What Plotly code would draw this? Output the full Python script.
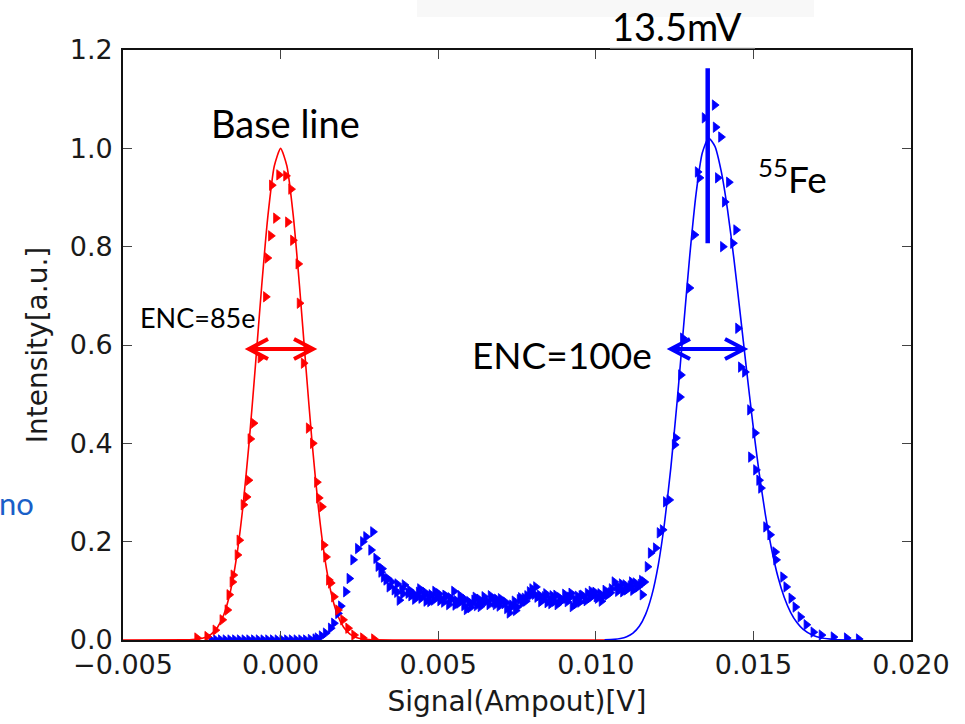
import plotly.graph_objects as go

# ---------------- data (x in mV, converted to V for plotting) ----------------
# Base line (red) measured points
red_x_mV = [-2.65, -2.33, -2.07, -1.85, -1.69, -1.63, -1.53, -1.50, -1.37, -1.31,
            -1.18, -1.08, -1.02, -0.96, -0.86, -0.64, -0.47, -0.42, -0.31, -0.28,
            -0.15, -0.05, 0.17, 0.23, 0.33, 0.39, 0.56, 0.60, 0.73, 0.89,
            1.02, 1.15, 1.21, 1.31, 1.37, 1.44, 1.53, 1.59, 1.69, 1.82,
            1.98, 2.14, 2.33, 2.61, 2.96]
red_y = [0.004, 0.007, 0.020, 0.041, 0.061, 0.092, 0.118, 0.132, 0.173, 0.203,
         0.275, 0.291, 0.325, 0.409, 0.441, 0.574, 0.698, 0.777, 0.822, 0.925,
         0.858, 0.946, 0.944, 0.850, 0.917, 0.813, 0.765, 0.685, 0.563, 0.431,
         0.400, 0.321, 0.289, 0.271, 0.193, 0.169, 0.122, 0.116, 0.088, 0.061,
         0.041, 0.024, 0.010, 0.004, 0.002]

# Base line fit curve
red_fit_x_mV = [-5.0, -3.0, -2.8, -2.6, -2.4, -2.2, -2.0, -1.8, -1.6, -1.4, -1.2, -1.0,
                -0.8, -0.6, -0.4, -0.2, 0.0, 0.2, 0.4, 0.6, 0.8, 1.0, 1.2, 1.4, 1.6,
                1.8, 2.0, 2.2, 2.4, 2.6, 2.8, 3.0, 4.0, 10.3]
red_fit_y = [0.0, 0.0003, 0.0008, 0.0021, 0.0052, 0.0120, 0.0259, 0.0519, 0.0966, 0.167,
             0.2685, 0.401, 0.557, 0.720, 0.864, 0.964, 1.0, 0.964, 0.864, 0.720, 0.557,
             0.401, 0.2685, 0.167, 0.0966, 0.0519, 0.0259, 0.0120, 0.0052, 0.0021,
             0.0008, 0.0003, 0.0, 0.0]

# 55Fe spectrum (blue) measured points
blue_x_mV = [-2.20, -2.05, -1.90, -1.75, -1.60, -1.45, -1.30, -1.15, -1.00, -0.85, -0.70,
             -0.55, -0.40, -0.25, -0.10, 0.05, 0.20, 0.35, 0.50, 0.65, 0.80, 0.95,
             1.10, 1.17, 1.30, 1.43, 1.59, 1.69, 1.82, 1.91, 2.07, 2.18, 2.30, 2.45,
             2.61, 2.71, 2.87, 2.93, 3.03, 3.10, 3.19, 3.27, 3.35, 3.45, 3.52, 3.61,
             3.69, 3.77, 3.85, 3.93, 4.05,
             4.14, 4.22, 4.30, 4.38, 4.46, 4.54, 4.62, 4.70, 4.78, 4.86, 4.94, 5.02,
             5.10, 5.18, 5.26, 5.34, 5.42, 5.50, 5.58, 5.66, 5.74, 5.82, 5.90, 5.98,
             6.06, 6.14, 6.22, 6.30, 6.38, 6.46, 6.54, 6.62, 6.70, 6.78, 6.86, 6.94,
             7.02, 7.10, 7.18, 7.26, 7.34, 7.42, 7.50, 7.58, 7.66, 7.74, 7.82, 7.90,
             7.98, 8.06, 8.14, 8.22, 8.30, 8.38, 8.46, 8.54, 8.62, 8.70, 8.78, 8.86,
             8.94, 9.02, 9.10, 9.18, 9.26, 9.34, 9.42, 9.50, 9.58, 9.66, 9.74, 9.82,
             9.90, 9.98, 10.06, 10.14, 10.22, 10.30, 10.38, 10.46, 10.59, 10.70, 10.78,
             10.86, 10.94, 11.02, 11.10, 11.18, 11.26, 11.34, 11.42, 11.48, 11.54,
             11.64, 11.74, 11.90, 12.02, 12.12, 12.22, 12.33, 12.50, 12.54, 12.67,
             12.70, 12.76, 12.97, 13.13, 13.23, 13.29, 13.45, 13.77, 13.80, 13.87,
             13.97, 14.03, 14.09, 14.22, 14.35, 14.45, 14.51, 14.60, 14.73, 14.89,
             14.92, 15.05, 15.08, 15.18, 15.24, 15.40, 15.53, 15.69, 15.72, 15.94,
             16.04, 16.20, 16.33, 16.49, 16.68, 16.90, 17.16, 17.54, 17.96, 18.34,
             # second (scattered) group of plateau readings
             3.22, 3.40, 3.70, 3.88, 4.10, 4.26, 4.42, 4.58, 4.74, 4.90, 5.06, 5.22,
             5.38, 5.54, 5.70, 5.86, 6.02, 6.18, 6.34, 6.50, 6.66, 6.82, 6.98, 7.14,
             7.30, 7.46, 7.62, 7.78, 7.94, 8.10, 8.26, 8.42, 8.58, 8.74, 8.90, 9.06,
             9.22, 9.38, 9.54, 9.70, 9.86, 10.02, 10.18, 10.34, 10.50, 10.66, 10.82,
             10.98, 11.14, 11.30, 11.46]
blue_y = [0.0, 0.0, 0.0, 0.0, 0.0, 0.0, 0.0, 0.0, 0.0, 0.0, 0.0,
          0.0, 0.0, 0.0, 0.0, 0.0, 0.0, 0.0, 0.0, 0.0, 0.0, 0.001,
          0.002, 0.004, 0.008, 0.014, 0.024, 0.034, 0.054, 0.069, 0.098, 0.125, 0.163, 0.186,
          0.200, 0.210, 0.183, 0.220, 0.166, 0.150, 0.138, 0.128, 0.122, 0.108, 0.118, 0.102,
          0.097, 0.081, 0.104, 0.112, 0.095,
          0.090, 0.094, 0.088, 0.097, 0.085, 0.091, 0.079, 0.088, 0.092, 0.081, 0.087, 0.094,
          0.084, 0.077, 0.089, 0.072, 0.083, 0.099, 0.080, 0.075, 0.084, 0.070, 0.062, 0.078,
          0.073, 0.081, 0.070, 0.083, 0.076, 0.088, 0.079, 0.072, 0.085, 0.077, 0.083, 0.069,
          0.080, 0.074, 0.064, 0.055, 0.071, 0.079, 0.067, 0.082, 0.075, 0.085, 0.090, 0.098,
          0.104, 0.093, 0.087, 0.091, 0.081, 0.088, 0.076, 0.083, 0.090, 0.079, 0.072, 0.086,
          0.081, 0.093, 0.078, 0.087, 0.068, 0.082, 0.089, 0.077, 0.091, 0.084, 0.095, 0.086,
          0.090, 0.097, 0.085, 0.094, 0.088, 0.101, 0.092, 0.096, 0.118, 0.099, 0.105,
          0.098, 0.112, 0.104, 0.110, 0.101, 0.116, 0.108, 0.113, 0.092, 0.118,
          0.149, 0.177, 0.187, 0.218, 0.224, 0.281, 0.285, 0.397, 0.411, 0.494,
          0.539, 0.614, 0.716, 0.824, 0.952, 0.940, 1.062, 1.088, 1.043, 0.940,
          1.023, 0.800, 0.891, 0.931, 0.807, 0.834, 0.634, 0.555, 0.545, 0.468,
          0.372, 0.421, 0.346, 0.325, 0.309, 0.230, 0.214, 0.179, 0.163, 0.128,
          0.108, 0.085, 0.067, 0.047, 0.031, 0.016, 0.010, 0.006, 0.004, 0.002,
          0.145, 0.125, 0.114, 0.094, 0.101, 0.083, 0.104, 0.097, 0.078, 0.099, 0.080, 0.091,
          0.086, 0.071, 0.090, 0.082, 0.066, 0.087, 0.068, 0.080, 0.090, 0.072, 0.084, 0.077,
          0.066, 0.060, 0.086, 0.079, 0.091, 0.108, 0.078, 0.094, 0.074, 0.091, 0.079, 0.085,
          0.095, 0.074, 0.090, 0.080, 0.099, 0.088, 0.079, 0.094, 0.104, 0.110, 0.114,
          0.102, 0.118, 0.107, 0.121]

# 55Fe fit curve
blue_fit_x_mV = [10.28, 10.58, 10.78, 10.98, 11.18, 11.38, 11.58, 11.78, 11.98, 12.18,
                 12.38, 12.58, 12.78, 12.98, 13.18, 13.38, 13.58, 13.78, 13.98, 14.18,
                 14.38, 14.58, 14.78, 14.98, 15.18, 15.38, 15.58, 15.78, 15.98, 16.18,
                 16.38, 16.58, 16.88, 17.18, 17.58, 18.38]
blue_fit_y = [0.0003, 0.0013, 0.0030, 0.0067, 0.0141, 0.0279, 0.0522, 0.0918, 0.152, 0.238,
              0.350, 0.485, 0.634, 0.781, 0.907, 0.991, 1.021, 1.004, 0.953, 0.875,
              0.776, 0.665, 0.551, 0.441, 0.341, 0.255, 0.184, 0.128, 0.0865, 0.0563,
              0.0354, 0.0216, 0.0096, 0.0039, 0.0011, 0.0]

peak_mV = 13.55          # marked peak position
x_ticks = [-0.005, 0.000, 0.005, 0.010, 0.015, 0.020]
y_ticks = [0.0, 0.2, 0.4, 0.6, 0.8, 1.0, 1.2]

# ---------------- figure ----------------
to_V = lambda arr: [v * 1e-3 for v in arr]

W, H = 965, 724
L, R, T, B = 123, 54, 50, 84
PW, PH = W - L - R, H - T - B


def px(xp):
    return (xp - L) / PW


def py(yp):
    return (H - B - yp) / PH


RED = "#ff0000"
BLUE = "#0000ff"

fig = go.Figure()
fig.add_trace(go.Scatter(x=to_V(red_fit_x_mV), y=red_fit_y, mode="lines",
                         line=dict(color=RED, width=1.6, shape="spline", smoothing=0.6),
                         hoverinfo="skip", showlegend=False))
fig.add_trace(go.Scatter(x=to_V(blue_fit_x_mV), y=blue_fit_y, mode="lines",
                         line=dict(color=BLUE, width=1.6, shape="spline", smoothing=0.6),
                         hoverinfo="skip", showlegend=False))
fig.add_trace(go.Scatter(x=to_V(blue_x_mV), y=blue_y, mode="markers",
                         marker=dict(symbol="triangle-right", size=9, color=BLUE,
                                     line=dict(width=0.8, color=BLUE)),
                         showlegend=False))
fig.add_trace(go.Scatter(x=to_V(red_x_mV), y=red_y, mode="markers",
                         marker=dict(symbol="triangle-right", size=9, color=RED,
                                     line=dict(width=0.8, color=RED)),
                         showlegend=False))

# peak marker line
fig.add_shape(type="line", xref="x", yref="y", x0=peak_mV * 1e-3, x1=peak_mV * 1e-3,
              y0=0.807, y1=1.163, line=dict(color=BLUE, width=4.5), layer="above")


# double-headed arrows (drawn in pixel space)
def double_arrow(x0p, x1p, yp, color):
    hx, hy = 19, 10
    fig.add_shape(type="line", xref="paper", yref="paper", x0=px(x0p), x1=px(x1p),
                  y0=py(yp), y1=py(yp), line=dict(color=color, width=4), layer="above")
    for tip, sgn in ((x0p, 1), (x1p, -1)):
        path = (f"M {px(tip + sgn * hx)},{py(yp - hy)} L {px(tip)},{py(yp)} "
                f"L {px(tip + sgn * hx)},{py(yp + hy)}")
        fig.add_shape(type="path", xref="paper", yref="paper", path=path,
                      line=dict(color=color, width=4), layer="above")


double_arrow(249, 313, 349, RED)
double_arrow(671, 744, 349, BLUE)

# faint banner and underline at top
fig.add_shape(type="rect", xref="paper", yref="paper", x0=px(417), x1=px(814),
              y0=py(17), y1=py(0), fillcolor="#f8f8f8", line=dict(width=0), layer="below")
fig.add_shape(type="line", xref="paper", yref="paper", x0=px(610), x1=px(755),
              y0=py(48), y1=py(48), line=dict(color="#cfcfcf", width=1))

TXT = "Lato"
ann = [
    dict(text="Base line", x=px(285), y=py(123), size=38, color="black"),
    dict(text="13.5mV", x=px(677), y=py(26), size=38, color="black"),
    dict(text="<sup>55</sup>Fe", x=px(792), y=py(176), size=37, color="black"),
    dict(text="ENC=85e", x=px(197), y=py(317), size=27, color="black"),
    dict(text="ENC=100e", x=px(562), y=py(354), size=37, color="black"),
]
for a in ann:
    fig.add_annotation(text=a["text"], x=a["x"], y=a["y"], xref="paper", yref="paper",
                       showarrow=False, xanchor="center", yanchor="middle",
                       font=dict(family=TXT, size=a["size"], color=a["color"]))
fig.add_annotation(text="no", x=px(-3), y=py(503), xref="paper", yref="paper",
                   showarrow=False, xanchor="left", yanchor="middle",
                   font=dict(family=TXT, size=31, color="#1a5fc8"))

axis_common = dict(showline=True, linecolor="#111111", linewidth=1.6, mirror="ticks",
                   ticks="inside", ticklen=9, tickwidth=1, tickcolor="#444444",
                   showgrid=False, zeroline=False, automargin=False,
                   tickfont=dict(family="DejaVu Sans", size=27, color="#1a1a1a"))

fig.update_layout(
    width=W, height=H, autosize=False,
    margin=dict(l=L, r=R, t=T, b=B, pad=0),
    paper_bgcolor="white", plot_bgcolor="white",
    xaxis=dict(range=[-0.005, 0.020], tickvals=x_ticks, tickformat=".3f",
               ticklabelstandoff=0,
               title=dict(text="Signal(Ampout)[V]", standoff=12,
                          font=dict(family="DejaVu Sans", size=28, color="#1a1a1a")),
               **axis_common),
    yaxis=dict(range=[0, 1.2], tickvals=y_ticks, tickformat=".1f",
               ticklabelstandoff=3,
               title=dict(text="Intensity[a.u.]", standoff=14,
                          font=dict(family="DejaVu Sans", size=28, color="#1a1a1a")),
               **axis_common),
)

fig.write_html("out.html", config={"displayModeBar": False},
               post_script="document.body.style.margin='0';document.body.style.overflow='hidden';")
